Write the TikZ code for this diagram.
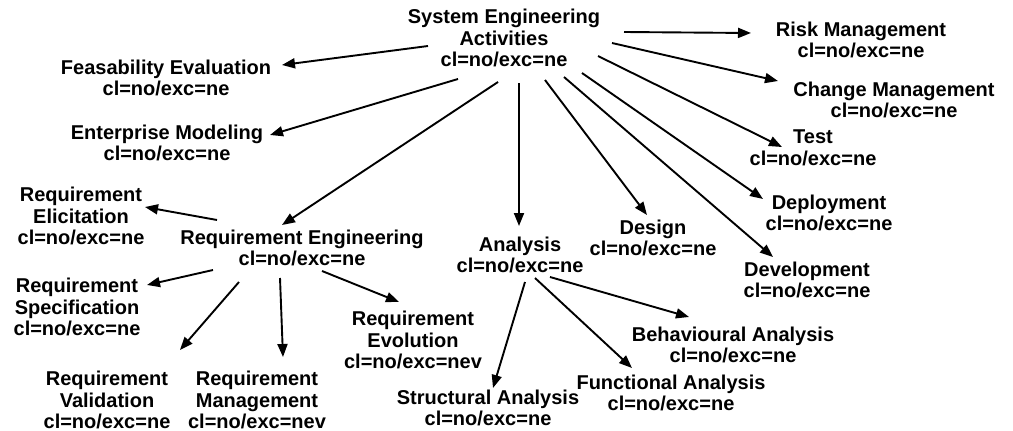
\documentclass[tikz,border=0pt]{standalone}
\usepackage{fontspec}
\setmainfont{Liberation Sans}
\usetikzlibrary{arrows.meta,calc}

\tikzset{
  lbl/.style={align=center, inner sep=0pt, font=\bfseries\fontsize{20}{21.5}\selectfont},
  arr/.style={line width=1.9pt, -{Triangle[length=13pt,width=10pt]}}
}

\begin{document}
\begin{tikzpicture}[x=1pt,y=-1pt]
  \fill[white] (0,0) rectangle (1013,431);
  \useasboundingbox (0,0) rectangle (1013,431);

  % activity nodes
  \node[lbl] (sea)    at (504,38)  {System Engineering\\Activities\\cl=no/exc=ne};
  \node[lbl] (feas)   at (166,78)  {Feasability Evaluation\\cl=no/exc=ne};
  \node[lbl] (ent)    at (167,143) {Enterprise Modeling\\cl=no/exc=ne};
  \node[lbl] (elic)   at (81,216)  {Requirement\\Elicitation\\cl=no/exc=ne};
  \node[lbl] (reng)   at (302,248) {Requirement Engineering\\cl=no/exc=ne};
  \node[lbl] (spec)   at (77,307)  {Requirement\\Specification\\cl=no/exc=ne};
  \node[lbl] (evol)   at (413,340) {Requirement\\Evolution\\cl=no/exc=nev};
  \node[lbl] (valid)  at (107,400) {Requirement\\Validation\\cl=no/exc=ne};
  \node[lbl] (mgmt)   at (257,400) {Requirement\\Management\\cl=no/exc=nev};
  \node[lbl] (ana)    at (520,255) {Analysis\\cl=no/exc=ne};
  \node[lbl] (design) at (653,238) {Design\\cl=no/exc=ne};
  \node[lbl] (devel)  at (807,280) {Development\\cl=no/exc=ne};
  \node[lbl] (deploy) at (829,213) {Deployment\\cl=no/exc=ne};
  \node[lbl] (test)   at (813,148) {Test\\cl=no/exc=ne};
  \node[lbl] (change) at (894,100) {Change Management\\cl=no/exc=ne};
  \node[lbl] (risk)   at (861,40)  {Risk Management\\cl=no/exc=ne};
  \node[lbl] (behav)  at (733,345) {Behavioural Analysis\\cl=no/exc=ne};
  \node[lbl] (func)   at (671,393) {Functional Analysis\\cl=no/exc=ne};
  \node[lbl] (struct) at (488,408) {Structural Analysis\\cl=no/exc=ne};

  % system engineering activities
  \draw[arr] ($(sea)+(120,-6)$)  -- ($(risk)+(-110,-7)$);
  \draw[arr] ($(sea)+(108,5)$)   -- ($(change)+(-116,-19)$);
  \draw[arr] ($(sea)+(94,18)$)   -- ($(test)+(-31,-1)$);
  \draw[arr] ($(sea)+(78,35)$)   -- ($(deploy)+(-66,-14)$);
  \draw[arr] ($(sea)+(60,39)$)   -- ($(devel)+(-34,-23)$);
  \draw[arr] ($(sea)+(41,42)$)   -- ($(design)+(-6,-23)$);
  \draw[arr] ($(sea)+(15,45)$)   -- ($(ana)+(-1,-29)$);
  \draw[arr] ($(sea)+(-6,44)$)   -- ($(reng)+(-20,-23)$);
  \draw[arr] ($(sea)+(-46,41)$)  -- ($(ent)+(103,-8)$);
  \draw[arr] ($(sea)+(-76,8)$)   -- ($(feas)+(116,-13)$);

  % requirement engineering
  \draw[arr] ($(reng)+(-85,-28)$) -- ($(elic)+(64,-9)$);
  \draw[arr] ($(reng)+(-89,22)$)  -- ($(spec)+(70,-22)$);
  \draw[arr] ($(reng)+(-63,34)$)  -- ($(valid)+(73,-50)$);
  \draw[arr] ($(reng)+(-22,30)$)  -- ($(mgmt)+(26,-43)$);
  \draw[arr] ($(reng)+(20,23)$)   -- ($(evol)+(-14,-38)$);

  % analysis
  \draw[arr] ($(ana)+(5,27)$)  -- ($(struct)+(5,-20)$);
  \draw[arr] ($(ana)+(15,23)$) -- ($(func)+(-39,-25)$);
  \draw[arr] ($(ana)+(30,22)$) -- ($(behav)+(-44,-28)$);
\end{tikzpicture}
\end{document}
